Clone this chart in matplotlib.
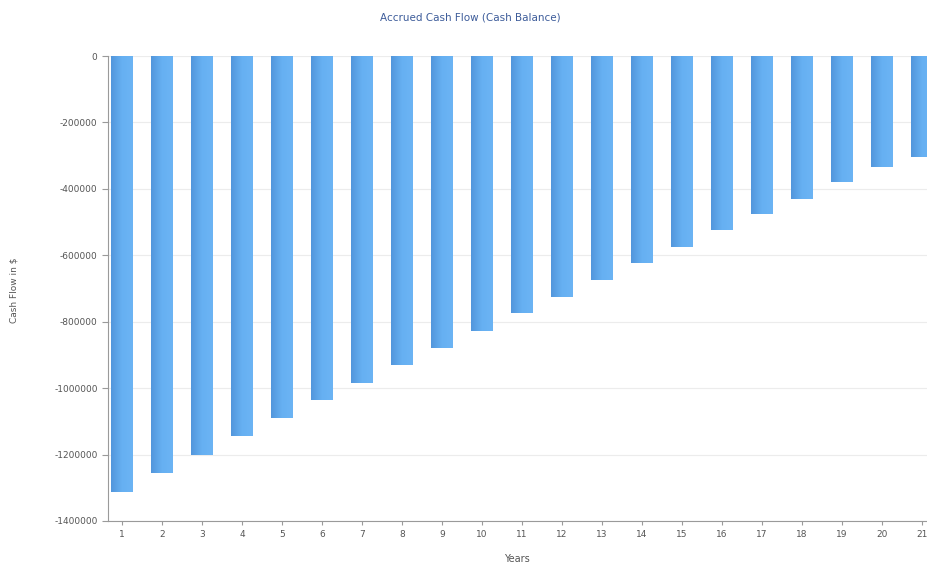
import numpy as np
import matplotlib.pyplot as plt
from matplotlib.colors import LinearSegmentedColormap

years = list(range(1, 22))
# accrued cash balance per year
balance = [-1312000, -1256000, -1201000, -1144000, -1090000, -1036000, -985000,
           -930000, -879000, -828000, -774000, -726000, -674000, -623000,
           -575000, -524000, -476000, -430000, -379000, -334000, -304000]
yticks = [0, -200000, -400000, -600000, -800000, -1000000, -1200000, -1400000]

fig = plt.figure(figsize=(9.28, 5.66), dpi=100)
ax = fig.add_axes([108/928, 45/566, 820/928, 465/566])

bars = ax.bar(years, balance, width=0.55, color='#62acf0', zorder=3)

# horizontal gradient (darker left edge) clipped to each bar
cmap = LinearSegmentedColormap.from_list('barfill', ['#5296dc', '#66b0f2', '#6cb4f4'])
grad = np.linspace(0, 1, 64).reshape(1, -1)
for b in bars:
    x0 = b.get_x()
    w = b.get_width()
    im = ax.imshow(grad, cmap=cmap, aspect='auto', zorder=4,
                   extent=[x0, x0 + w, b.get_y() + b.get_height(), b.get_y()])
    im.set_clip_path(b)

ax.set_xlim(0.65, 21.15)
ax.set_ylim(-1400000, 0)
ax.set_yticks(yticks)
ax.set_yticklabels([str(t) for t in yticks])
ax.set_xticks(years)
ax.grid(axis='y', color='#ececec', linewidth=0.8, zorder=0)

for s in ['top', 'right']:
    ax.spines[s].set_visible(False)
for s in ['left', 'bottom']:
    ax.spines[s].set_color('#9a9a9a')
ax.tick_params(axis='both', colors='#555555', labelsize=6.5, length=4, width=0.8)
ax.tick_params(axis='x', length=3, color='#9a9a9a')
ax.tick_params(axis='y', color='#9a9a9a')

fig.text(517/928, 1 - 559/566, 'Years', ha='center', va='center',
         fontsize=7, color='#555555')
fig.text(14/928, 1 - 290/566, 'Cash Flow in $', rotation=90, ha='center', va='center',
         fontsize=6.5, color='#555555')
fig.text(470/928, 1 - 18/566, 'Accrued Cash Flow (Cash Balance)', ha='center', va='center',
         fontsize=7.5, color='#3d5c9a')

plt.savefig('out.png', dpi=100)
